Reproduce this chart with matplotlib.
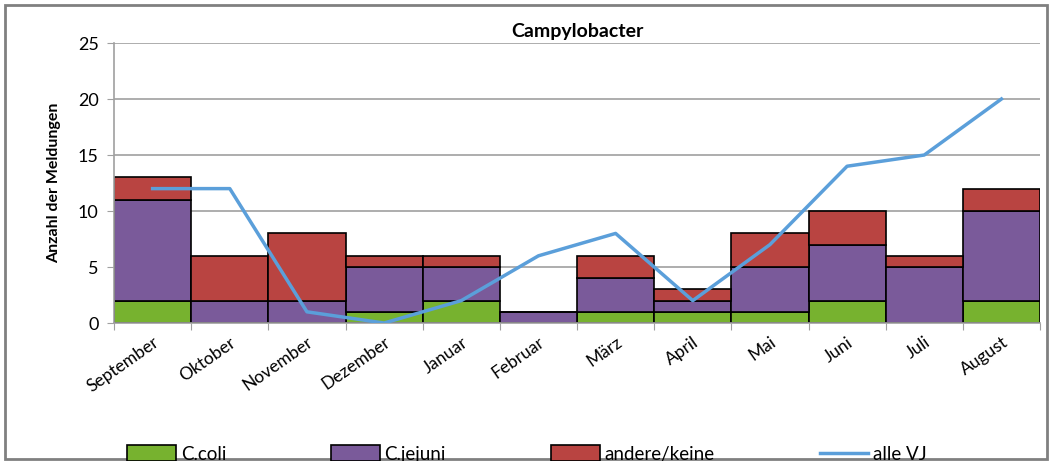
import matplotlib.pyplot as plt
from matplotlib.patches import Rectangle
import numpy as np

plt.rcParams['font.family'] = ['Lato', 'DejaVu Sans']

months = ["September", "Oktober", "November", "Dezember", "Januar", "Februar",
          "März", "April", "Mai", "Juni", "Juli", "August"]
c_coli = [2, 0, 0, 1, 2, 0, 1, 1, 1, 2, 0, 2]
c_jejuni = [9, 2, 2, 4, 3, 1, 3, 1, 4, 5, 5, 8]
andere = [2, 4, 6, 1, 1, 0, 2, 1, 3, 3, 1, 2]
alle_vj = [12, 12, 1, 0, 2, 6, 8, 2, 7, 14, 15, 20]

green = "#77B22F"
purple = "#7A5A9A"
red = "#B94441"
blue = "#5B9FDA"

fig = plt.figure(figsize=(10.52, 4.61), dpi=100)
ax = fig.add_axes([0.1084, 0.2993, 0.8802, 0.6074])

x = np.arange(len(months))
b1 = np.array(c_coli)
b2 = b1 + np.array(c_jejuni)
h1 = ax.bar(x, c_coli, width=1.0, color=green, edgecolor="black", linewidth=1.2, zorder=2)
h2 = ax.bar(x, c_jejuni, width=1.0, bottom=b1, color=purple, edgecolor="black", linewidth=1.2, zorder=2)
h3 = ax.bar(x, andere, width=1.0, bottom=b2, color=red, edgecolor="black", linewidth=1.2, zorder=2)
l1, = ax.plot(x, alle_vj, color=blue, linewidth=2.5, zorder=3)

ax.set_xlim(-0.5, 11.5)
ax.set_ylim(0, 25)
ax.set_yticks([0, 5, 10, 15, 20, 25])
ax.yaxis.grid(True, color="#A0A0A0", linewidth=1.2, zorder=0)
ax.set_axisbelow(True)
ax.set_xticks(np.arange(-0.5, 12, 1.0))
ax.set_xticklabels([])
ax.set_xticks(x, minor=True)
ax.set_xticklabels(months, minor=True, rotation=35, ha="right", rotation_mode="anchor", fontsize=12.5)
ax.tick_params(axis="x", which="minor", length=0, pad=8)
ax.tick_params(axis="x", which="major", length=5, color="#A0A0A0")
ax.tick_params(axis="y", length=5, color="#A0A0A0", labelsize=13, pad=6)
for s in ["top", "right"]:
    ax.spines[s].set_visible(False)
for s in ["left", "bottom"]:
    ax.spines[s].set_color("#A0A0A0")
    ax.spines[s].set_linewidth(1.2)

ax.set_title("Campylobacter", fontsize=14, fontweight="bold", pad=4)
ax.set_ylabel("Anzahl der Meldungen", fontsize=11.5, fontweight="bold", labelpad=12)

fig.legend([h1, h2, h3, l1], ["C.coli", "C.jejuni", "andere/keine", "alle VJ"],
           loc="center left", bbox_to_anchor=(0.105, 0.015), ncol=4, frameon=False,
           fontsize=13.5, handlelength=2.6, handleheight=0.9, handletextpad=0.25,
           columnspacing=5.6)

fig.patches.append(Rectangle((0.005, 0.004), 0.99, 0.985, transform=fig.transFigure,
                             fill=False, edgecolor="#808080", linewidth=2))

plt.savefig("out.png", dpi=100)
